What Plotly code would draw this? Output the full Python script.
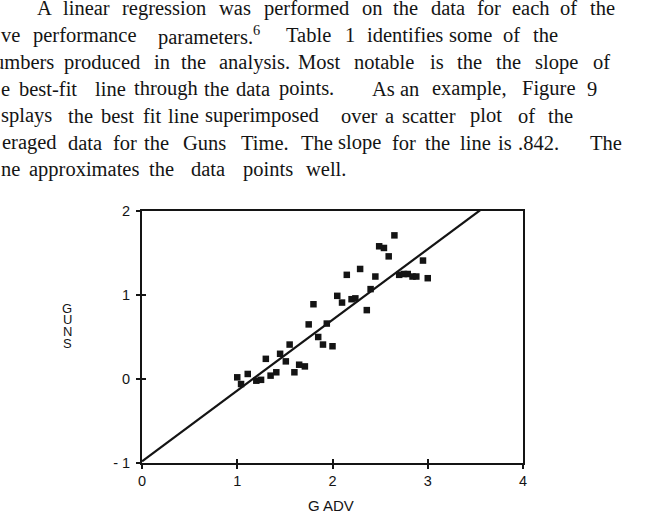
import plotly.graph_objects as go

# ---------------- data ----------------
gadv = [1.00, 1.04, 1.11, 1.20, 1.25, 1.30, 1.35, 1.41, 1.45, 1.51,
        1.55, 1.60, 1.65, 1.71, 1.75, 1.80, 1.85, 1.90, 1.94, 2.00,
        2.05, 2.10, 2.15, 2.20, 2.24, 2.29, 2.36, 2.40, 2.45, 2.49,
        2.54, 2.59, 2.65, 2.70, 2.75, 2.79, 2.84, 2.88, 2.95, 3.00]
guns = [0.02, -0.06, 0.06, -0.02, -0.01, 0.24, 0.04, 0.08, 0.30, 0.21,
        0.41, 0.08, 0.17, 0.15, 0.65, 0.89, 0.50, 0.41, 0.66, 0.39,
        0.99, 0.91, 1.24, 0.95, 0.96, 1.31, 0.82, 1.07, 1.22, 1.58,
        1.56, 1.46, 1.71, 1.24, 1.25, 1.25, 1.22, 1.22, 1.41, 1.20]
slope = 0.842
intercept = -0.98
fit_x = [0.0, 4.0]
fit_y = [intercept + slope * v for v in fit_x]

x_ticks = [0, 1, 2, 3, 4]
x_tick_labels = ["0", "1", "2", "3", "4"]
y_ticks = [-1, 0, 1, 2]
y_tick_labels = ["- 1", "0", "1", "2"]
x_title = "G ADV"
y_title_letters = ["G", "U", "N", "S"]

paragraph = [
    ["A", "linear", "regression", "was", "performed", "on", "the", "data", "for", "each", "of", "the"],
    ["ve", "performance", "parameters.<sup>6</sup>", "Table", "1", "identifies", "some", "of", "the"],
    ["umbers", "produced", "in", "the", "analysis.", "Most", "notable", "is", "the", "the", "slope", "of"],
    ["e", "best-fit", "line", "through", "the", "data", "points.", "As", "an", "example,", "Figure", "9"],
    ["splays", "the", "best", "fit", "line", "superimposed", "over", "a", "scatter", "plot", "of", "the"],
    ["eraged", "data", "for", "the", "Guns", "Time.", "The", "slope", "for", "the", "line", "is", ".842.", "The"],
    ["ne", "approximates", "the", "data", "points", "well."],
]

# ---------------- layout geometry (pixels) ----------------
W, H = 654, 522
L, R, T, B = 142, 131, 211, 59
PW, PH = W - L - R, H - T - B

def px(x):
    return (x - L) / PW

def py(y):
    return (H - B - y) / PH

word_x = [
    [36, 62, 121, 218, 263, 361, 392, 430, 476, 511, 559, 589],
    [0, 32, 157, 285, 344, 366, 448, 502, 532],
    [-7, 63, 153, 180, 218, 297, 353, 429, 456, 495, 534, 592],
    [0, 18, 94, 133, 203, 235, 278, 371, 399, 431, 521, 586],
    [0, 67, 100, 142, 167, 204, 340, 384, 401, 469, 517, 547],
    [1, 67, 112, 143, 182, 240, 300, 337, 391, 424, 459, 497, 517, 589],
    [0, 28, 148, 190, 242, 305],
]
baselines = [15, 42, 69, 95.5, 122.5, 149.5, 176]

ink = "#141414"
serif = "Liberation Serif"
sans = "Liberation Sans"
fs = 20.5

fig = go.Figure()
fig.add_trace(go.Scatter(x=fit_x, y=fit_y, mode="lines",
                         line=dict(color=ink, width=2.2), showlegend=False,
                         hoverinfo="skip"))
fig.add_trace(go.Scatter(x=gadv, y=guns, mode="markers",
                         marker=dict(symbol="square", size=6.5, color=ink),
                         showlegend=False))
# invisible trace on the overlay axes (inner half of crossing ticks)
fig.add_trace(go.Scatter(x=[0], y=[0], xaxis="x2", yaxis="y2", mode="markers",
                         marker=dict(opacity=0), showlegend=False, hoverinfo="skip"))

annotations = []
for words, xs, bl in zip(paragraph, word_x, baselines):
    for w, xp in zip(words, xs):
        annotations.append(dict(text=w, x=px(xp), y=py(bl - 0.3375 * fs), xref="paper", yref="paper",
                                xanchor="left", yanchor="middle", showarrow=False, borderpad=0,
                                font=dict(family=serif, size=fs, color=ink)))

for letter, yc in zip(y_title_letters, [308, 319.5, 331.3, 343]):
    annotations.append(dict(text=letter, x=px(67), y=py(yc), xref="paper", yref="paper",
                            xanchor="center", yanchor="middle", showarrow=False, borderpad=0,
                            font=dict(family=sans, size=13, color=ink)))
annotations.append(dict(text=x_title, x=px(331), y=py(505), xref="paper", yref="paper",
                        xanchor="center", yanchor="middle", showarrow=False, borderpad=0,
                        font=dict(family=sans, size=15, color=ink)))

axis_common = dict(showgrid=False, zeroline=False, linecolor=ink, linewidth=2,
                   tickcolor=ink, tickwidth=2, ticklen=4)

fig.update_layout(
    width=W, height=H,
    margin=dict(l=L, r=R, t=T, b=B, pad=0),
    paper_bgcolor="white", plot_bgcolor="white",
    xaxis=dict(range=[0, 4], tickvals=x_ticks, ticktext=x_tick_labels, ticks="outside",
               showline=True, mirror=True, ticklabelstandoff=0,
               tickfont=dict(family=sans, size=14.5, color=ink), **axis_common),
    yaxis=dict(range=[-1, 2], tickvals=y_ticks, ticktext=y_tick_labels, ticks="outside",
               showline=True, mirror=True, ticklabelstandoff=3,
               tickfont=dict(family=sans, size=14.5, color=ink), **axis_common),
    xaxis2=dict(range=[0, 4], tickvals=x_ticks, ticks="inside", overlaying="x", anchor="y",
                side="bottom", showticklabels=False, showline=False, **axis_common),
    yaxis2=dict(range=[-1, 2], tickvals=y_ticks, ticks="inside", overlaying="y", anchor="x",
                side="left", showticklabels=False, showline=False, **axis_common),
    annotations=annotations,
    showlegend=False,
)

fig.write_html("out.html")
